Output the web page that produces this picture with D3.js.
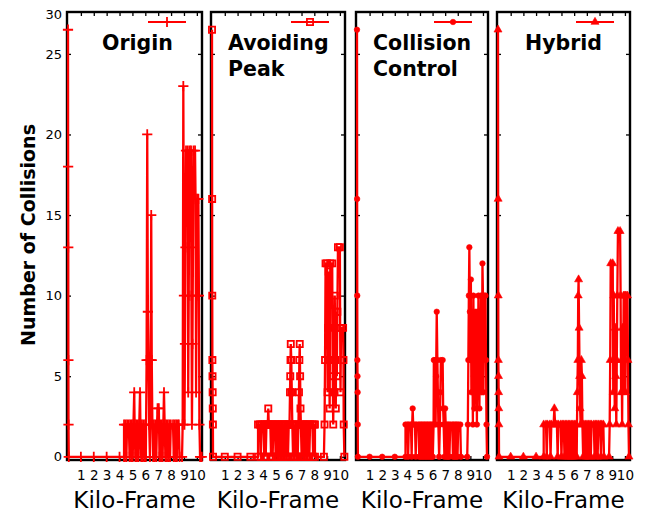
<!DOCTYPE html>
<html>
<head>
<meta charset="utf-8">
<script src="https://cdn.jsdelivr.net/npm/d3@7"></script>
<style>
  body { margin: 0; background: #fff; }
  svg { display: block; }
  text { font-family: "DejaVu Sans", sans-serif; fill: #000; }
</style>
</head>
<body>
<svg width="645" height="513"></svg>
<script>
// chart values
var panelTitles = [["Origin"], ["Avoiding", "Peak"], ["Collision", "Control"], ["Hybrid"]]
var markerTypes = ["plus", "square", "circle", "triangle"]
var xTicks = [1, 2, 3, 4, 5, 6, 7, 8, 9, 10]
var yTicks = [0, 5, 10, 15, 20, 25]
var yTopLabel = "30"
var xLabel = "Kilo-Frame"
var yLabel = "Number of Collisions"

// [kilo-frame, collisions]
var originSeries = [
	[0, 26.5], [0.01, 18], [0.02, 13], [0.03, 6], [0.04, 2], [0.06, 0],
	[1, 0], [2, 0], [3, 0], [4, 0],
	[4.35, 0], [4.35, 2], [4.41, 0], [4.47, 2], [4.53, 0], [4.59, 2], [4.72, 2], [4.78, 0], [4.84, 2],
	[4.9, 0], [4.96, 2], [5.02, 0], [5.08, 2], [5.14, 4], [5.17, 2], [5.23, 0], [5.29, 2], [5.35, 0],
	[5.41, 2], [5.47, 0], [5.53, 2], [5.59, 4], [5.62, 2], [5.68, 0], [5.74, 2], [5.8, 0], [5.86, 2],
	[5.92, 0], [5.98, 2], [6.04, 0], [6.1, 6], [6.15, 20], [6.2, 9], [6.25, 6], [6.3, 2], [6.36, 0],
	[6.42, 6], [6.46, 15], [6.5, 6], [6.55, 2], [6.61, 0], [6.67, 2], [6.73, 0], [6.79, 2], [6.85, 0],
	[6.91, 2], [6.95, 3], [7.05, 3], [7.1, 0], [7.16, 2], [7.22, 0], [7.28, 2], [7.34, 0], [7.4, 2],
	[7.45, 4], [7.5, 2], [7.56, 0], [7.62, 2], [7.68, 0], [7.74, 2], [7.8, 0], [7.86, 2], [7.92, 0],
	[7.98, 2], [8.15, 2], [8.21, 0], [8.27, 2], [8.33, 0], [8.39, 2], [8.45, 0], [8.51, 2], [8.6, 2], [8.66, 0],
	[8.85, 0], [8.9, 2], [8.95, 23], [9.0, 10], [9.04, 2], [9.08, 7], [9.12, 13], [9.16, 19], [9.3, 19],
	[9.33, 4], [9.37, 10], [9.41, 17], [9.45, 19], [9.55, 19], [9.58, 10], [9.62, 2], [9.66, 7],
	[9.7, 13], [9.74, 19], [9.86, 19], [9.9, 16], [9.94, 4], [9.98, 10], [10.02, 16], [10.12, 16],
	[10.16, 10], [10.2, 2], [10.25, 0], [10.38, 0]
]

var avoidingSeries = [
	[0, 26.5], [0.01, 16], [0.02, 10], [0.03, 6], [0.04, 5], [0.05, 4], [0.06, 3], [0.07, 2], [0.08, 0],
	[1, 0], [2, 0], [3, 0],
	[3.6, 0], [3.6, 2], [3.75, 2], [3.81, 0], [3.87, 2], [4.02, 2], [4.08, 0], [4.14, 2], [4.2, 0],
	[4.26, 2], [4.36, 2], [4.4, 3], [4.44, 2], [4.56, 2], [4.62, 0], [4.68, 2], [4.74, 0], [4.8, 2],
	[4.92, 2], [4.98, 0], [5.04, 2], [5.1, 0], [5.16, 2], [5.22, 0], [5.28, 2], [5.34, 0], [5.4, 2],
	[5.46, 0], [5.52, 2], [5.58, 0], [5.64, 2], [5.7, 0], [5.76, 2], [5.82, 0], [5.88, 2], [5.94, 0],
	[6.0, 2], [6.06, 2], [6.1, 4], [6.12, 5], [6.14, 6], [6.16, 7], [6.2, 6], [6.24, 4], [6.28, 2],
	[6.34, 0], [6.4, 2], [6.46, 0], [6.52, 2], [6.58, 0], [6.64, 2], [6.7, 0], [6.76, 2], [6.8, 4],
	[6.83, 6], [6.86, 7], [6.89, 5], [6.92, 3], [6.95, 2], [7.01, 0], [7.07, 2], [7.13, 0], [7.19, 2],
	[7.25, 0], [7.31, 2], [7.37, 0], [7.43, 2], [7.49, 0], [7.55, 2], [7.61, 0], [7.67, 2], [7.85, 2],
	[7.91, 0], [7.97, 2], [8.05, 2], [8.05, 0],
	[8.75, 0], [8.8, 2], [8.84, 6], [8.88, 12], [9.0, 12], [9.04, 4], [9.08, 8], [9.12, 11.5], [9.16, 6],
	[9.2, 3], [9.25, 12], [9.4, 12], [9.44, 5], [9.48, 2], [9.52, 6], [9.56, 4], [9.6, 10], [9.64, 6],
	[9.68, 3], [9.72, 9], [9.76, 5], [9.8, 9], [9.85, 13], [10.0, 13], [10.02, 8], [10.05, 4],
	[10.09, 8], [10.25, 8], [10.28, 6], [10.3, 2], [10.35, 0]
]

var controlSeries = [
	[0, 26.5], [0.01, 16], [0.02, 10], [0.03, 6], [0.04, 5], [0.05, 4], [0.06, 2], [0.07, 0],
	[1, 0], [2, 0], [3, 0],
	[3.85, 0], [3.85, 2], [4.0, 2], [4.06, 0], [4.12, 2], [4.28, 2], [4.34, 0], [4.38, 2], [4.42, 3],
	[4.46, 2], [4.6, 2], [4.66, 0], [4.72, 2], [4.88, 2], [4.94, 0], [5.0, 2], [5.06, 0], [5.12, 2],
	[5.18, 0], [5.24, 2], [5.3, 0], [5.36, 2], [5.42, 0], [5.48, 2], [5.54, 0], [5.6, 2], [5.66, 0],
	[5.72, 2], [5.78, 0], [5.84, 2], [5.9, 0], [5.96, 2], [6.02, 0], [6.08, 2], [6.1, 6], [6.2, 6],
	[6.24, 2], [6.28, 5], [6.33, 9], [6.38, 6], [6.42, 4], [6.46, 2], [6.52, 0], [6.58, 2], [6.62, 4],
	[6.66, 6], [6.8, 6], [6.84, 3], [6.88, 2], [6.94, 0], [7.0, 3], [7.04, 2], [7.1, 0], [7.16, 2],
	[7.22, 0], [7.28, 2], [7.34, 0], [7.4, 2], [7.56, 2], [7.62, 0], [7.68, 2], [7.74, 0], [7.8, 2],
	[7.86, 0], [7.92, 2], [7.98, 0], [8.04, 2], [8.2, 2], [8.25, 0],
	[8.75, 0], [8.8, 2], [8.84, 6], [8.88, 10], [8.92, 13], [8.96, 9], [9.0, 6], [9.04, 11], [9.08, 4],
	[9.12, 9], [9.16, 6], [9.2, 2], [9.24, 10], [9.28, 5], [9.32, 3], [9.36, 6], [9.4, 9], [9.44, 4],
	[9.48, 6], [9.52, 2], [9.56, 9], [9.6, 5], [9.64, 10], [9.68, 6], [9.72, 3], [9.76, 9], [9.8, 6],
	[9.84, 10], [9.88, 4], [9.92, 6], [9.96, 12], [10.0, 10], [10.04, 4], [10.08, 10], [10.2, 10],
	[10.24, 6], [10.28, 2], [10.32, 0]
]

var hybridSeries = [
	[0, 26.5], [0.01, 16], [0.02, 10], [0.03, 6], [0.04, 5], [0.05, 4], [0.06, 3], [0.07, 2], [0.08, 0],
	[1, 0], [2, 0], [3, 0],
	[3.6, 0], [3.6, 2], [3.78, 2], [3.84, 0], [3.9, 2], [4.08, 2], [4.14, 0], [4.2, 2], [4.38, 2],
	[4.44, 3], [4.5, 2], [4.64, 2], [4.7, 0], [4.76, 2], [4.94, 2], [5.0, 0], [5.06, 2], [5.18, 2],
	[5.24, 0], [5.3, 2], [5.36, 0], [5.42, 2], [5.48, 0], [5.54, 2], [5.6, 0], [5.66, 2], [5.72, 0],
	[5.78, 2], [5.84, 0], [5.9, 2], [5.96, 0], [6.02, 2], [6.08, 0], [6.14, 2], [6.2, 0], [6.25, 4],
	[6.29, 6], [6.32, 10], [6.35, 11], [6.39, 8], [6.43, 5], [6.47, 3], [6.51, 2], [6.57, 6], [6.61, 5],
	[6.65, 2], [6.71, 0], [6.77, 2], [6.83, 0], [6.89, 2], [6.95, 0], [7.01, 2], [7.07, 0], [7.13, 2],
	[7.19, 0], [7.25, 2], [7.31, 0], [7.37, 2], [7.55, 2], [7.61, 0], [7.67, 2], [7.73, 0], [7.79, 2],
	[7.85, 0], [7.91, 2], [8.05, 2], [8.11, 0], [8.17, 2], [8.3, 2], [8.35, 0],
	[8.75, 0], [8.8, 2], [8.84, 6], [8.88, 12], [9.04, 12], [9.08, 4], [9.12, 10], [9.16, 6], [9.2, 3],
	[9.24, 8], [9.28, 5], [9.32, 2], [9.36, 6], [9.4, 10], [9.45, 14], [9.62, 14], [9.66, 10], [9.7, 4],
	[9.74, 6], [9.78, 2], [9.82, 8], [9.86, 4], [9.9, 10], [10.0, 10], [10.04, 4], [10.08, 10],
	[10.2, 10], [10.24, 6], [10.28, 2], [10.32, 0]
]

var allSeries = [originSeries, avoidingSeries, controlSeries, hybridSeries]

// layout
var svg = d3.select("svg")
var panelLeft = [67, 211, 356, 497]
var panelRight = [202, 345, 488, 630]
var titleDx = [35, 17, 17, 28]
var plotTop = 12, plotBottom = 460
var red = "#ff0000"

var yScale = d3.scaleLinear().domain([-0.2, 27.6]).range([plotBottom, plotTop])

function markerPath(type) {
	if (type == "plus") return d3.symbol(d3.symbolPlus, 36)()
	if (type == "square") return d3.symbol(d3.symbolSquare2, 48)()
	if (type == "circle") return d3.symbol(d3.symbolCircle, 24)()
	return d3.symbol(d3.symbolTriangle, 28)()
}

function markerStyle(sel, type) {
	if (type == "plus" || type == "square") {
		sel.attr("fill", "none").attr("stroke", red).attr("stroke-width", 1.8)
	} else {
		sel.attr("fill", red).attr("stroke", red).attr("stroke-width", 0.6)
	}
}

panelTitles.forEach(function (title, i) {
	var left = panelLeft[i], right = panelRight[i]
	var xScale = d3.scaleLinear().domain([0, 10.4]).range([left + 1, right])
	var g = svg.append("g")

	// inward ticks on all four sides
	g.append("g")
		.attr("transform", "translate(0," + plotBottom + ")")
		.call(d3.axisBottom(xScale).tickValues(xTicks).tickSize(-4).tickPadding(10).tickFormat(d3.format("d")))
		.call(function (a) {
			a.select(".domain").remove()
			a.selectAll("text").attr("font-size", "13.5px").attr("font-family", "DejaVu Sans")
		})
	g.append("g")
		.attr("transform", "translate(0," + plotTop + ")")
		.call(d3.axisTop(xScale).tickValues(xTicks).tickSize(-4).tickFormat(""))
		.call(function (a) { a.select(".domain").remove() })
	g.append("g")
		.attr("transform", "translate(" + left + ",0)")
		.call(d3.axisLeft(yScale).tickValues(yTicks).tickSize(-4).tickPadding(5)
			.tickFormat(i == 0 ? d3.format("d") : ""))
		.call(function (a) {
			a.select(".domain").remove()
			a.selectAll("text").attr("font-size", "13px").attr("font-family", "DejaVu Sans")
		})
	g.append("g")
		.attr("transform", "translate(" + right + ",0)")
		.call(d3.axisRight(yScale).tickValues(yTicks).tickSize(-4).tickFormat(""))
		.call(function (a) { a.select(".domain").remove() })
	g.selectAll(".tick line").attr("stroke", "#000").attr("stroke-width", 1.3)

	if (i == 0) {
		g.append("text")
			.attr("x", left - 5)
			.attr("y", plotTop + 3)
			.attr("dy", ".32em")
			.attr("text-anchor", "end")
			.attr("font-size", "13px")
			.text(yTopLabel)
	}

	// frame
	g.append("rect")
		.attr("x", left)
		.attr("y", plotTop)
		.attr("width", right - left)
		.attr("height", plotBottom - plotTop)
		.attr("fill", "none")
		.attr("stroke", "#000")
		.attr("stroke-width", 2.4)

	// series line + markers
	var data = allSeries[i]
	var line = d3.line()
		.x(function (d) { return xScale(d[0]) })
		.y(function (d) { return yScale(d[1]) })

	g.append("path")
		.datum(data)
		.attr("d", line)
		.attr("fill", "none")
		.attr("stroke", red)
		.attr("stroke-width", 2.3)
		.attr("stroke-linejoin", "miter")
		.attr("stroke-miterlimit", 2)

	var mp = markerPath(markerTypes[i])
	g.selectAll(".mk")
		.data(data)
		.enter().append("path")
		.attr("class", "mk")
		.attr("d", mp)
		.attr("transform", function (d) {
			return "translate(" + xScale(d[0]) + "," + yScale(d[1]) + ")"
		})
		.call(markerStyle, markerTypes[i])

	// legend
	var ly = 22
	g.append("line")
		.attr("x1", right - 54).attr("x2", right - 16)
		.attr("y1", ly).attr("y2", ly)
		.attr("stroke", red).attr("stroke-width", 2)
	g.append("path")
		.attr("d", mp)
		.attr("transform", "translate(" + (right - 35) + "," + ly + ")")
		.call(markerStyle, markerTypes[i])

	// title
	var t = g.append("text")
		.attr("x", left + titleDx[i])
		.attr("y", 50)
		.attr("font-size", "20.5px")
		.attr("font-weight", "bold")
	title.forEach(function (s, k) {
		t.append("tspan")
			.attr("x", left + titleDx[i])
			.attr("dy", k == 0 ? 0 : 26)
			.text(s)
	})

	// x label
	g.append("text")
		.attr("x", (left + right) / 2)
		.attr("y", 508)
		.attr("text-anchor", "middle")
		.attr("font-size", "23px")
		.text(xLabel)
})

svg.append("text")
	.attr("transform", "translate(35,235) rotate(-90)")
	.attr("text-anchor", "middle")
	.attr("font-size", "19px")
	.attr("font-weight", "bold")
	.text(yLabel)
</script>
</body>
</html>
